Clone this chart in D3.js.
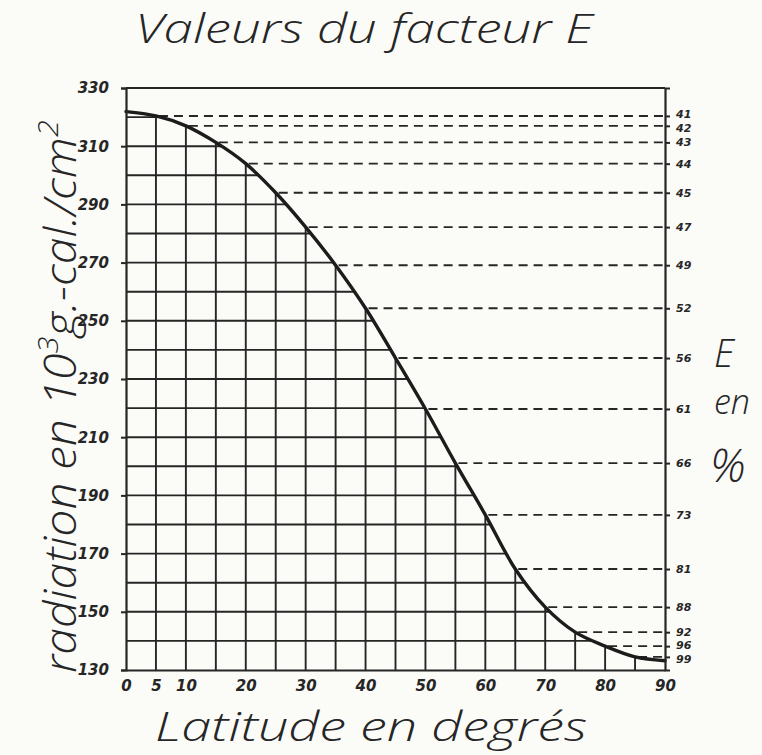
<!DOCTYPE html>
<html>
<head>
<meta charset="utf-8">
<script src="https://cdn.jsdelivr.net/npm/d3@7"></script>
<style>
  html, body { margin: 0; padding: 0; background: #fbfbf8; }
  svg { display: block; }
</style>
</head>
<body>
<svg id="chart" width="762" height="755"></svg>
<script>
// ---------- data ----------
const latitudes = [0, 5, 10, 15, 20, 25, 30, 35, 40, 45, 50, 55, 60, 65, 70, 75, 80, 85, 90];
const radiation = [321.9, 320.4, 317.0, 311.3, 304.0, 294.0, 282.2, 269.1, 254.3, 237.2, 219.7, 201.1, 183.3, 164.7, 151.6, 143.0, 138.2, 134.5, 133.2];
const eLatitudes = [5, 10, 15, 20, 25, 30, 35, 40, 45, 50, 55, 60, 65, 70, 75, 80, 85];
const eLabels = ["41", "42", "43", "44", "45", "47", "49", "52", "56", "61", "66", "73", "81", "88", "92", "96", "99"];
const yTickValues = [130, 150, 170, 190, 210, 230, 250, 270, 290, 310, 330];
const yGridValues = [140, 150, 160, 170, 180, 190, 200, 210, 220, 230, 240, 250, 260, 270, 280, 290, 300, 310, 320];
const xTickValues = [0, 5, 10, 20, 30, 40, 50, 60, 70, 80, 90];
const xGridValues = [5, 10, 15, 20, 25, 30, 35, 40, 45, 50, 55, 60, 65, 70, 75, 80, 85];

// ---------- layout ----------
const ink = "#262626";
const pLeft = 126, pRight = 665, pTop = 88, pBottom = 670;
const svg = d3.select("#chart");

const x = d3.scaleLinear().domain([0, 90]).range([pLeft, pRight]);
const y = d3.scaleLinear().domain([130, 330]).range([pBottom, pTop]);

const pts = latitudes.map((d, i) => [d, radiation[i]]);
const line = d3.line().x(d => x(d[0])).y(d => y(d[1])).curve(d3.curveCatmullRom.alpha(0.5));

// curve path (drawn invisibly first to sample it)
const curvePath = svg.append("path")
  .attr("d", line(pts))
  .attr("fill", "none")
  .attr("stroke", "none");

const node = curvePath.node();
const total = node.getTotalLength();
const samples = [];
for (let l = 0; l <= total; l += 0.25) samples.push(node.getPointAtLength(l));
function xAtY(py) {
  for (const p of samples) if (p.y >= py) return p.x;
  return pRight;
}
const radAt = lat => radiation[latitudes.indexOf(lat)];

const g = svg.append("g");

// horizontal grid lines (left axis to curve)
g.selectAll("line.hgrid").data(yGridValues).join("line")
  .attr("class", "hgrid")
  .attr("x1", x(0)).attr("x2", v => xAtY(y(v)))
  .attr("y1", v => y(v)).attr("y2", v => y(v))
  .attr("stroke", ink).attr("stroke-width", 1.9);

// vertical grid lines (bottom to curve)
g.selectAll("line.vgrid").data(xGridValues).join("line")
  .attr("class", "vgrid")
  .attr("x1", d => x(d)).attr("x2", d => x(d))
  .attr("y1", y(130)).attr("y2", d => y(radAt(d)))
  .attr("stroke", ink).attr("stroke-width", 1.9);

// dashed lines from curve to right axis
g.selectAll("line.dash").data(eLatitudes).join("line")
  .attr("class", "dash")
  .attr("x1", d => x(d) + 3).attr("x2", x(90))
  .attr("y1", d => y(radAt(d))).attr("y2", d => y(radAt(d)))
  .attr("stroke", ink).attr("stroke-width", 1.9)
  .attr("stroke-dasharray", "9,6");

// top frame line
g.append("line").attr("x1", x(0)).attr("x2", x(90)).attr("y1", y(330)).attr("y2", y(330))
  .attr("stroke", ink).attr("stroke-width", 2.2);

// curve on top
svg.append("path")
  .attr("d", line(pts))
  .attr("fill", "none")
  .attr("stroke", "#1c1c1c")
  .attr("stroke-width", 3.4)
  .attr("stroke-linecap", "round");

// ---------- axes ----------
const numFont = "'DejaVu Sans', sans-serif";

const yAxis = svg.append("g")
  .attr("transform", `translate(${pLeft},0)`)
  .call(d3.axisLeft(y).tickValues(yTickValues).tickSize(5).tickPadding(12).tickFormat(d3.format("d")));
yAxis.select(".domain").attr("stroke", ink).attr("stroke-width", 2.2);
yAxis.selectAll(".tick line").attr("stroke", ink).attr("stroke-width", 2);
yAxis.selectAll(".tick text")
  .attr("font-family", numFont).attr("font-size", 15).attr("font-weight", "bold")
  .attr("fill", ink).attr("font-style", "italic");

const xAxis = svg.append("g")
  .attr("transform", `translate(0,${pBottom})`)
  .call(d3.axisBottom(x).tickValues(xTickValues).tickSize(0).tickPadding(10).tickFormat(d3.format("d")));
xAxis.select(".domain").attr("stroke", ink).attr("stroke-width", 2.2);
xAxis.selectAll(".tick text")
  .attr("font-family", numFont).attr("font-size", 15).attr("font-weight", "bold")
  .attr("fill", ink).attr("font-style", "italic");

const eValues = eLatitudes.map(radAt);
const rAxis = svg.append("g")
  .attr("transform", `translate(${pRight},0)`)
  .call(d3.axisRight(y).tickValues(eValues).tickSize(5).tickPadding(6)
    .tickFormat((d, i) => eLabels[i]));
rAxis.select(".domain").attr("stroke", ink).attr("stroke-width", 2.2);
rAxis.selectAll(".tick line").attr("stroke", ink).attr("stroke-width", 2);
rAxis.selectAll(".tick text")
  .attr("font-family", numFont).attr("font-size", 11).attr("font-weight", "bold")
  .attr("fill", ink).attr("font-style", "italic");
// nudge crowded right labels apart
{
  const minGap = 13.5;
  const ts = rAxis.selectAll(".tick").nodes().map((n, i) => ({ n, y: y(eValues[i]), ly: y(eValues[i]) }));
  ts.sort((a, b) => a.y - b.y);
  for (let k = 0; k < 40; k++) {
    for (let i = 1; i < ts.length; i++) {
      const gap = ts[i].ly - ts[i - 1].ly;
      if (gap < minGap) { const s = (minGap - gap) / 2; ts[i].ly += s; ts[i - 1].ly -= s; }
    }
  }
  ts.forEach(t => d3.select(t.n).select("text").attr("y", t.ly - t.y));
}

// ---------- titles ----------
const labFont = "'Open Sans', 'DejaVu Sans', sans-serif";
function fit(sel, w) {
  sel.attr("textLength", w).attr("lengthAdjust", "spacingAndGlyphs");
}

const title = svg.append("text")
  .attr("x", 135).attr("y", 43)
  .attr("font-family", labFont).attr("font-size", 41).attr("font-style", "italic").attr("font-weight", 300)
  .attr("fill", ink)
  .text("Valeurs du facteur E");
fit(title, 458);

const xl = svg.append("text")
  .attr("x", 155).attr("y", 741)
  .attr("font-family", labFont).attr("font-size", 41).attr("font-style", "italic").attr("font-weight", 300)
  .attr("fill", ink)
  .text("Latitude en degrés");
fit(xl, 432);

// y label with superscripts, rotated
const yl = svg.append("g");
const ylt = yl.append("text")
  .attr("font-family", labFont).attr("font-size", 44).attr("font-style", "italic").attr("font-weight", 300)
  .attr("fill", ink);
ylt.append("tspan").text("radiation en 10");
ylt.append("tspan").attr("font-size", 28).attr("dy", -18).text("3");
ylt.append("tspan").attr("dy", 18).text("g.-cal./cm");
ylt.append("tspan").attr("font-size", 28).attr("dy", -18).text("2");
{
  const bw = ylt.node().getBBox().width;
  const target = 553;
  yl.attr("transform", `translate(76,673) rotate(-90) scale(${target / bw},1)`);
}

// right label "E en %"
const rl = svg.append("g").attr("font-family", labFont).attr("font-style", "italic")
  .attr("font-weight", 300).attr("fill", ink);
rl.append("text").attr("x", 714).attr("y", 367).attr("font-size", 38).text("E");
rl.append("text").attr("x", 714).attr("y", 414).attr("font-size", 34).text("en");
rl.append("text").attr("x", 710).attr("y", 482).attr("font-size", 46).text("%");
</script>
</body>
</html>
